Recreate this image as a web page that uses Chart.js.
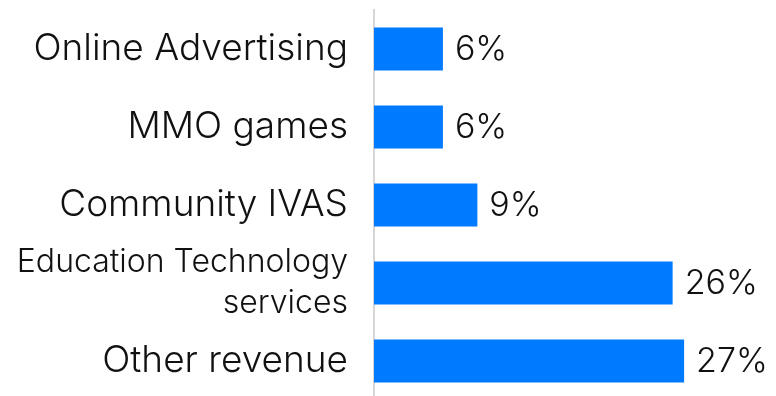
<!DOCTYPE html>
<html>
<head>
<meta charset="utf-8">
<script src="https://cdn.jsdelivr.net/npm/chart.js@4"></script>
<style>
    html, body { margin: 0; padding: 0; background: #fff; overflow: hidden; }
    canvas { display: block; }
</style>
</head>
<body>
<canvas id="chartReceita" width="776" height="400"></canvas>
<script>
const ctx = document.getElementById('chartReceita').getContext('2d');

const categorias = [
    'Online Advertising',
    'MMO games',
    'Community IVAS',
    ['Education Technology', 'services'],
    'Other revenue'
];

const percentuais = [6, 6, 9, 26, 27];

const escalaMax = 35;

// escreve o valor (%) logo depois da ponta de cada barra
const rotuloValor = {
    id: 'rotuloValor',
    afterDatasetsDraw(chart) {
        const c = chart.ctx;
        const meta = chart.getDatasetMeta(0);
        c.save();
        c.font = '300 34px Inter';
        c.fillStyle = '#111';
        c.textAlign = 'left';
        c.textBaseline = 'middle';
        meta.data.forEach((bar, i) => {
            c.fillText(percentuais[i] + '%', bar.x + 12, bar.y + 1);
        });
        c.restore();
    }
};

const receitaChart = new Chart(ctx, {
    type: 'bar',
    data: {
        labels: categorias,
        datasets: [
            {
                data: percentuais,
                backgroundColor: '#007AFF',
                barPercentage: 0.55,
                categoryPercentage: 1.0
            }
        ]
    },
    options: {
        indexAxis: 'y',
        responsive: false,
        animation: false,
        layout: {
            padding: { top: 10, right: 0, bottom: 0, left: 0 }
        },
        plugins: {
            legend: { display: false },
            tooltip: { enabled: false }
        },
        scales: {
            x: {
                display: false,
                min: 0,
                max: escalaMax
            },
            y: {
                afterFit(scale) {
                    // largura fixa e sem folga extra em cima/embaixo
                    scale.width = 374;
                    scale.paddingTop = 0;
                    scale.paddingBottom = 0;
                },
                grid: { display: false, drawTicks: false },
                border: { display: true, color: '#d6d6d6', width: 2 },
                ticks: {
                    color: '#111',
                    padding: 26,
                    autoSkip: false,
                    font: (c) => c.index === 3
                        ? { family: 'Inter', size: 32, weight: '300', lineHeight: 1.28 }
                        : { family: 'Inter', size: 37, weight: '300' }
                }
            }
        }
    },
    plugins: [rotuloValor]
});
</script>
</body>
</html>
